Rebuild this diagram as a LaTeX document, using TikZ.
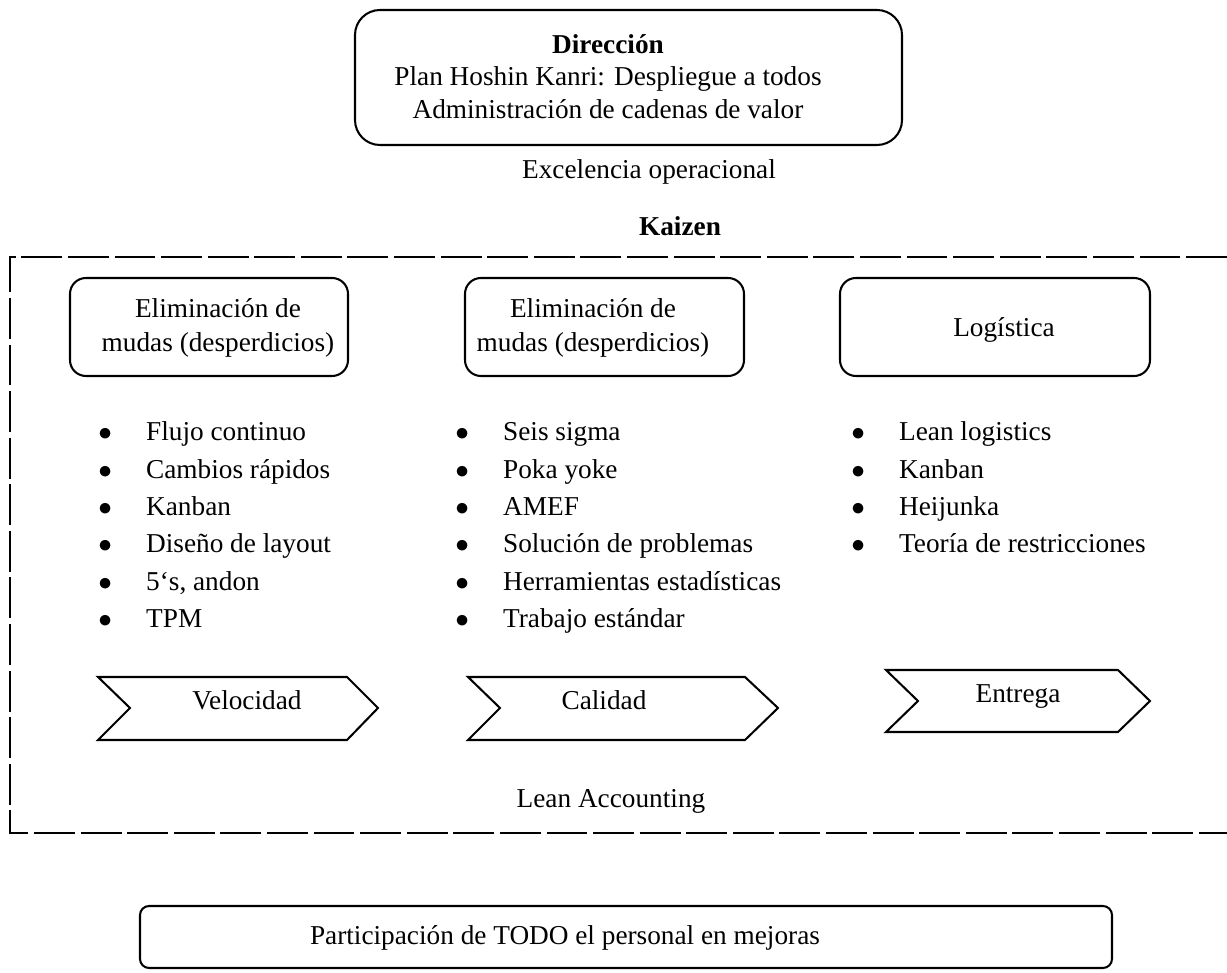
\documentclass[tikz,border=0pt]{standalone}
\usepackage{fontspec}
\setmainfont{Liberation Serif}

\begin{document}
\begin{tikzpicture}[
  x=0.44pt,
  y=-0.44pt,
  box/.style={draw=black, line width=0.9pt},
  frame/.style={draw=black, line width=0.9pt, dash pattern=on 18pt off 2.5pt},
  textlabel/.style={font=\fontsize{12}{14.6}\selectfont, align=center, inner sep=0pt, anchor=base},
  boldlabel/.style={textlabel, font=\fontsize{12}{14.6}\selectfont\bfseries},
  listlabel/.style={font=\fontsize{12}{16.4}\selectfont, inner sep=0pt, anchor=base west}
]
  \useasboundingbox (0,0) rectangle (1227,973);

  % Direction box
  \draw[box, rounded corners=11pt] (355,10) rectangle (902,145);
  \node[boldlabel] (direccion) at (608,54) {Dirección};
  % base of a two-line node is its last line
  \node[textlabel] (hoshin) at (608,119) {Plan Hoshin Kanri: Despliegue a todos\\Administración de cadenas de valor};

  \node[textlabel] (excelencia) at (649,179) {Excelencia operacional};
  \node[boldlabel] (kaizen) at (680,236) {Kaizen};

  % Kaizen frame (open on the right)
  \draw[frame] (1227,257) -- (10,257) -- (10,833) -- (1227,833);

  % Upper boxes
  \draw[box, rounded corners=7pt] (70,278) rectangle (348,376);
  \draw[box, rounded corners=7pt] (465,278) rectangle (744,376);
  \draw[box, rounded corners=7pt] (840,278) rectangle (1150,376);

  \node[textlabel, font=\fontsize{12}{15}\selectfont] (mudasA) at (218,352) {Eliminación de\\mudas (desperdicios)};
  \node[textlabel, font=\fontsize{12}{15}\selectfont] (mudasB) at (593,352) {Eliminación de\\mudas (desperdicios)};
  \node[textlabel] (logistica) at (1004,337) {Logística};

  % Bullet lists
  \node[listlabel] (velocidadlist) at (98,441) {\begin{tabular}[t]{@{}l@{\hspace{15pt}}l@{}}
    $\bullet$ & Flujo continuo\\
    $\bullet$ & Cambios rápidos\\
    $\bullet$ & Kanban\\
    $\bullet$ & Diseño de layout\\
    $\bullet$ & 5\symbol{96}s, andon\\
    $\bullet$ & TPM
  \end{tabular}};
  \node[listlabel] (calidadlist) at (455,441) {\begin{tabular}[t]{@{}l@{\hspace{15pt}}l@{}}
    $\bullet$ & Seis sigma\\
    $\bullet$ & Poka yoke\\
    $\bullet$ & AMEF\\
    $\bullet$ & Solución de problemas\\
    $\bullet$ & Herramientas estadísticas\\
    $\bullet$ & Trabajo estándar
  \end{tabular}};
  \node[listlabel] (entregalist) at (851,441) {\begin{tabular}[t]{@{}l@{\hspace{15pt}}l@{}}
    $\bullet$ & Lean logistics\\
    $\bullet$ & Kanban\\
    $\bullet$ & Heijunka\\
    $\bullet$ & Teoría de restricciones
  \end{tabular}};

  % Chevrons
  \draw[box] (98,677) -- (347,677) -- (378,708) -- (347,740) -- (98,740) -- (130,708) -- cycle;
  \draw[box] (468,677) -- (745,677) -- (778,708) -- (745,740) -- (468,740) -- (500,708) -- cycle;
  \draw[box] (886,670) -- (1118,670) -- (1150,701) -- (1118,732) -- (886,732) -- (918,701) -- cycle;

  \node[textlabel] (velocidad) at (247,710) {Velocidad};
  \node[textlabel] (calidad) at (604,710) {Calidad};
  \node[textlabel] (entrega) at (1018,703) {Entrega};

  \node[textlabel] (accounting) at (611,808) {Lean Accounting};

  % Participation box
  \draw[box, rounded corners=4pt] (140,906) rectangle (1112,968);
  \node[textlabel] (participacion) at (565,945) {Participación de TODO el personal en mejoras};

\end{tikzpicture}
\end{document}
